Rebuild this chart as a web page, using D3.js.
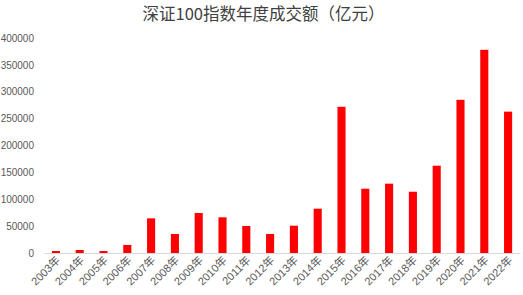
<!DOCTYPE html>
<html>
<head>
<meta charset="utf-8">
<script src="https://cdn.jsdelivr.net/npm/d3@7"></script>
<style>
  body { margin: 0; background: #fff; }
  svg text { font-family: "Liberation Sans", "Noto Sans CJK SC", sans-serif; }
</style>
</head>
<body>
<div id="chart"></div>
<script>
const years = ['2003年','2004年','2005年','2006年','2007年','2008年','2009年','2010年','2011年','2012年',
    '2013年','2014年','2015年','2016年','2017年','2018年','2019年','2020年','2021年','2022年'];
const turnover = [3700, 5600, 3700, 15000, 64500, 35400, 74400, 66400, 50200, 35400,
    50800, 82400, 272000, 119600, 129000, 114000, 162400, 285000, 378000, 263000];
const yTicks = [0, 50000, 100000, 150000, 200000, 250000, 300000, 350000, 400000];
const title = '深证100指数年度成交额（亿元）';

const W = 523, H = 295;
const margin = {top: 38, right: 3, bottom: 42, left: 44};

const svg = d3.select('#chart').append('svg')
    .attr('width', W)
    .attr('height', H);

const x = d3.scaleBand()
    .domain(years)
    .range([margin.left, W - margin.right])
    .paddingInner(0.66)
    .paddingOuter(0.33);

const y = d3.scaleLinear()
    .domain([0, 400000])
    .range([H - margin.bottom, margin.top]);

/* title */
svg.append('text')
    .attr('x', W / 2 + 2)
    .attr('y', 14)
    .attr('dy', '0.35em')
    .attr('text-anchor', 'middle')
    .attr('fill', '#404040')
    .style('font-family', '"Noto Sans CJK SC", sans-serif')
    .style('font-size', '16.5px')
    .text(title);

/* y axis */
const yAxis = svg.append('g')
    .attr('transform', `translate(${margin.left},0)`)
    .call(d3.axisLeft(y).tickValues(yTicks).tickSize(0).tickPadding(10).tickFormat(d3.format('d')));
yAxis.select('.domain').remove();
yAxis.selectAll('.tick text').attr('fill', '#595959').style('font-size', '10px');

/* bars */
svg.append('g').selectAll('rect')
    .data(years)
    .join('rect')
    .attr('x', d => x(d))
    .attr('width', x.bandwidth())
    .attr('y', (d, i) => y(turnover[i]))
    .attr('height', (d, i) => y(0) - y(turnover[i]))
    .attr('fill', '#ff0000');

/* x axis */
const xAxis = svg.append('g')
    .attr('transform', `translate(0,${y(0)})`)
    .call(d3.axisBottom(x).tickSize(0).tickPadding(0));
xAxis.select('.domain').attr('stroke', '#d9d9d9');
xAxis.selectAll('.tick text')
    .attr('fill', '#595959')
    .style('font-size', '11px')
    .attr('text-anchor', 'end')
    .attr('dy', 0)
    .attr('transform', 'translate(5,8) rotate(-45)');
</script>
</body>
</html>
